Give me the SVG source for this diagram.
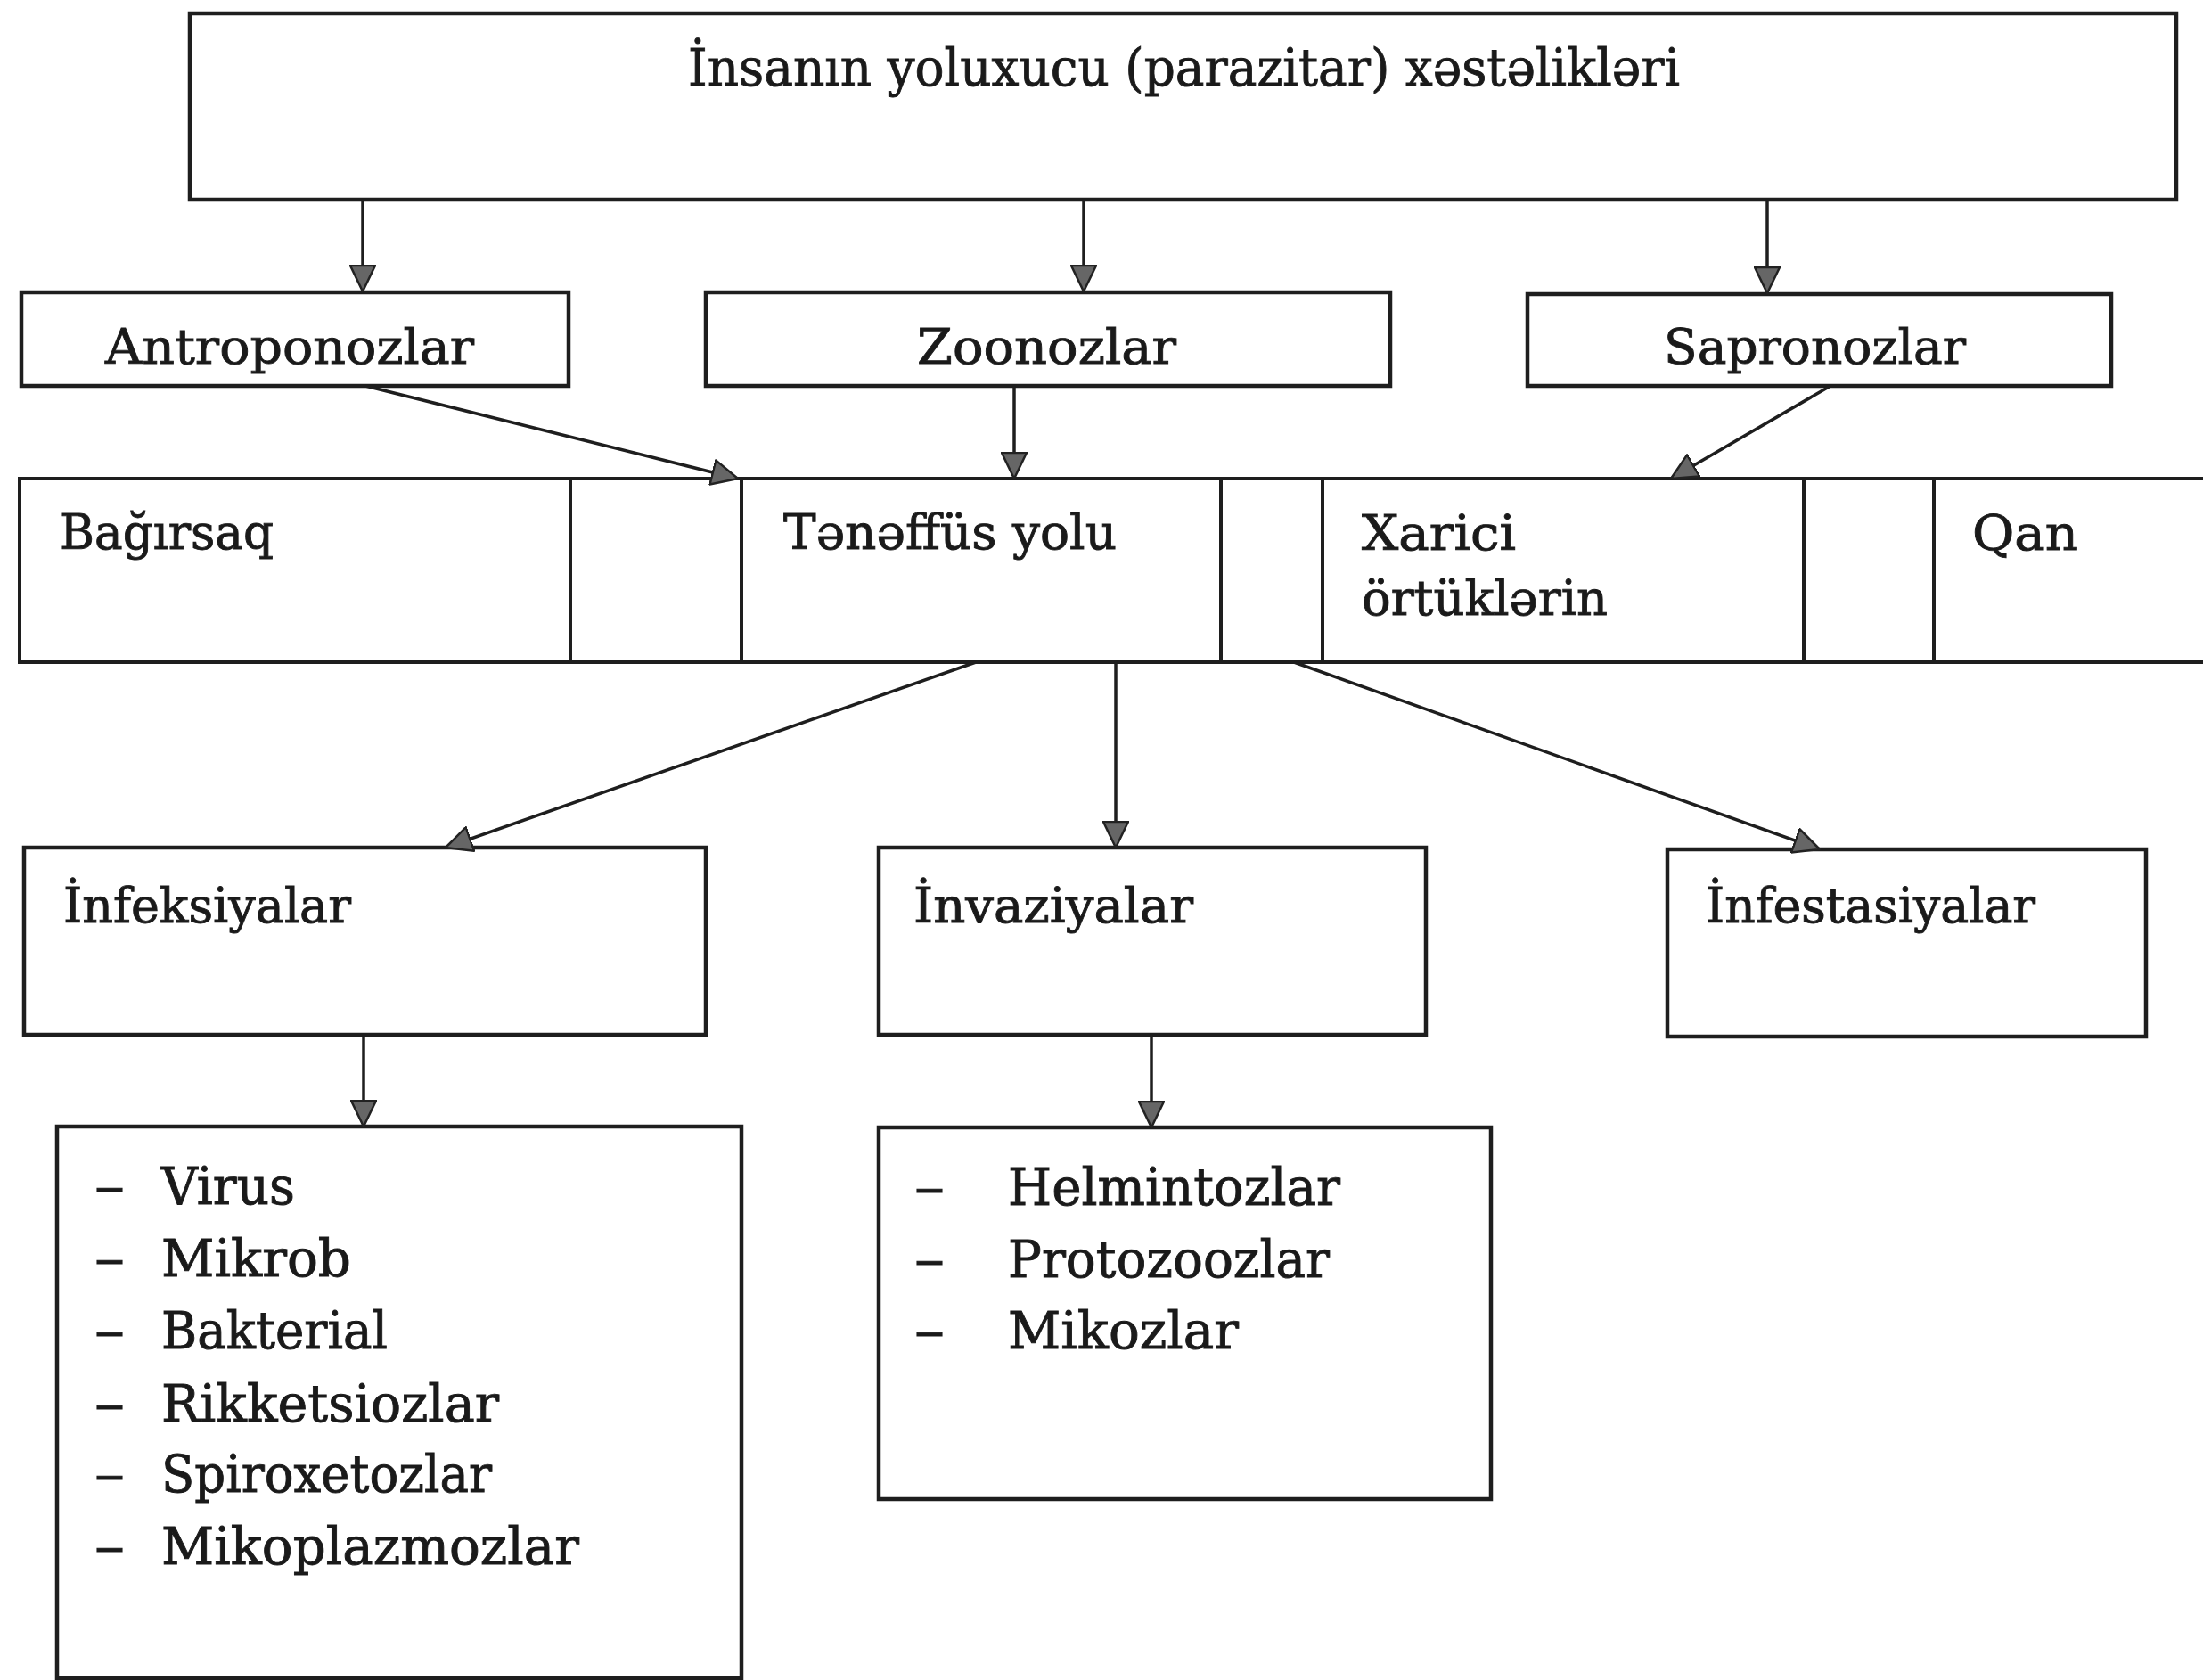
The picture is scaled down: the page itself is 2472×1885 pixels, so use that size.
<svg xmlns="http://www.w3.org/2000/svg" width="2472" height="1885" viewBox="0 0 2472 1885">
<style>
.box{fill:none;stroke:#1e1e1e;stroke-width:4.5}
.cell{fill:none;stroke:#1e1e1e;stroke-width:4}
.conn{fill:none;stroke:#1e1e1e;stroke-width:3.5}
text{font-family:"DejaVu Serif","Liberation Serif",serif;fill:#1a1a1a;stroke:#1a1a1a;stroke-width:0.9}
.t1{font-size:58px}
.t2{font-size:55px}
.t3{font-size:54px}
.t4{font-size:57px}
</style>
<defs>
<marker id="arr" viewBox="0 0 32 30" refX="30" refY="15" markerWidth="32" markerHeight="30" markerUnits="userSpaceOnUse" orient="auto">
<path d="M1,1 L30,15 L1,29 Z" fill="#666" stroke="#222" stroke-width="2.5" stroke-linejoin="round"/>
</marker>
</defs>
<rect width="2472" height="1885" fill="#fff"/>

<g id="root">
<rect class="box" x="213" y="15" width="2229" height="209"/>
<text class="t1" x="772" y="96" textLength="1113" lengthAdjust="spacingAndGlyphs">İnsanın yoluxucu (parazitar) xəstəlikləri</text>
</g>

<g id="antroponozlar">
<rect class="box" x="24" y="328" width="614" height="105"/>
<text class="t2" x="118" y="408" textLength="414" lengthAdjust="spacingAndGlyphs">Antroponozlar</text>
</g>
<g id="zoonozlar">
<rect class="box" x="792" y="328" width="768" height="105"/>
<text class="t2" x="1029" y="408" textLength="291" lengthAdjust="spacingAndGlyphs">Zoonozlar</text>
</g>
<g id="sapronozlar">
<rect class="box" x="1714" y="330" width="655" height="103"/>
<text class="t2" x="1867" y="408" textLength="339" lengthAdjust="spacingAndGlyphs">Sapronozlar</text>
</g>

<g id="bagirsaq">
<rect class="cell" x="22" y="537" width="618" height="206"/>
<text class="t3" x="67" y="616" textLength="240" lengthAdjust="spacingAndGlyphs">Bağırsaq</text>
</g>
<g id="gap1"><rect class="cell" x="640" y="537" width="192" height="206"/></g>
<g id="tenefus">
<rect class="cell" x="832" y="537" width="538" height="206"/>
<text class="t3" x="879" y="616" textLength="374" lengthAdjust="spacingAndGlyphs">Tənəffüs yolu</text>
</g>
<g id="gap2"><rect class="cell" x="1370" y="537" width="114" height="206"/></g>
<g id="xarici">
<rect class="cell" x="1484" y="537" width="540" height="206"/>
<text class="t3" x="1528" y="617" textLength="173" lengthAdjust="spacingAndGlyphs">Xarici</text>
<text class="t3" x="1528" y="690" textLength="276" lengthAdjust="spacingAndGlyphs">örtüklərin</text>
</g>
<g id="gap3"><rect class="cell" x="2024" y="537" width="146" height="206"/></g>
<g id="qan">
<rect class="cell" x="2170" y="537" width="320" height="206"/>
<text class="t3" x="2213" y="617" textLength="119" lengthAdjust="spacingAndGlyphs">Qan</text>
</g>

<g id="infeksiyalar">
<rect class="box" x="27" y="951" width="765" height="210"/>
<text class="t3" x="71" y="1035" textLength="323" lengthAdjust="spacingAndGlyphs">İnfeksiyalar</text>
</g>
<g id="invaziyalar">
<rect class="box" x="986" y="951" width="614" height="210"/>
<text class="t3" x="1025" y="1035" textLength="314" lengthAdjust="spacingAndGlyphs">İnvaziyalar</text>
</g>
<g id="infestasiyalar">
<rect class="box" x="1871" y="953" width="537" height="210"/>
<text class="t3" x="1914" y="1035" textLength="370" lengthAdjust="spacingAndGlyphs">İnfestasiyalar</text>
</g>

<g id="infeksiya-list">
<rect class="box" x="64" y="1264" width="768" height="619"/>
<text class="t4" x="106" y="1351" textLength="34" lengthAdjust="spacingAndGlyphs">–</text>
<text class="t4" x="181" y="1351" textLength="150" lengthAdjust="spacingAndGlyphs">Virus</text>
<text class="t4" x="106" y="1432" textLength="34" lengthAdjust="spacingAndGlyphs">–</text>
<text class="t4" x="181" y="1432" textLength="213" lengthAdjust="spacingAndGlyphs">Mikrob</text>
<text class="t4" x="106" y="1513" textLength="34" lengthAdjust="spacingAndGlyphs">–</text>
<text class="t4" x="181" y="1513" textLength="254" lengthAdjust="spacingAndGlyphs">Bakterial</text>
<text class="t4" x="106" y="1595" textLength="34" lengthAdjust="spacingAndGlyphs">–</text>
<text class="t4" x="181" y="1595" textLength="379" lengthAdjust="spacingAndGlyphs">Rikketsiozlar</text>
<text class="t4" x="106" y="1674" textLength="34" lengthAdjust="spacingAndGlyphs">–</text>
<text class="t4" x="181" y="1674" textLength="371" lengthAdjust="spacingAndGlyphs">Spiroxetozlar</text>
<text class="t4" x="106" y="1755" textLength="34" lengthAdjust="spacingAndGlyphs">–</text>
<text class="t4" x="181" y="1755" textLength="469" lengthAdjust="spacingAndGlyphs">Mikoplazmozlar</text>
</g>
<g id="invaziya-list">
<rect class="box" x="986" y="1265" width="687" height="417"/>
<text class="t4" x="1026" y="1352" textLength="34" lengthAdjust="spacingAndGlyphs">–</text>
<text class="t4" x="1131" y="1352" textLength="373" lengthAdjust="spacingAndGlyphs">Helmintozlar</text>
<text class="t4" x="1026" y="1433" textLength="34" lengthAdjust="spacingAndGlyphs">–</text>
<text class="t4" x="1131" y="1433" textLength="361" lengthAdjust="spacingAndGlyphs">Protozoozlar</text>
<text class="t4" x="1026" y="1513" textLength="34" lengthAdjust="spacingAndGlyphs">–</text>
<text class="t4" x="1131" y="1513" textLength="259" lengthAdjust="spacingAndGlyphs">Mikozlar</text>
</g>

<g id="connectors">
<line class="conn" x1="407" y1="224" x2="407" y2="327" marker-end="url(#arr)"/>
<line class="conn" x1="1216" y1="224" x2="1216" y2="327" marker-end="url(#arr)"/>
<line class="conn" x1="1983" y1="224" x2="1983" y2="329" marker-end="url(#arr)"/>
<line class="conn" x1="410" y1="433" x2="828" y2="537" marker-end="url(#arr)"/>
<line class="conn" x1="1138" y1="433" x2="1138" y2="537" marker-end="url(#arr)"/>
<line class="conn" x1="2054" y1="433" x2="1875" y2="537" marker-end="url(#arr)"/>
<line class="conn" x1="1095" y1="743" x2="500" y2="951" marker-end="url(#arr)"/>
<line class="conn" x1="1252" y1="743" x2="1252" y2="951" marker-end="url(#arr)"/>
<line class="conn" x1="1452" y1="743" x2="2042" y2="953" marker-end="url(#arr)"/>
<line class="conn" x1="408" y1="1161" x2="408" y2="1264" marker-end="url(#arr)"/>
<line class="conn" x1="1292" y1="1161" x2="1292" y2="1265" marker-end="url(#arr)"/>
</g>
</svg>
